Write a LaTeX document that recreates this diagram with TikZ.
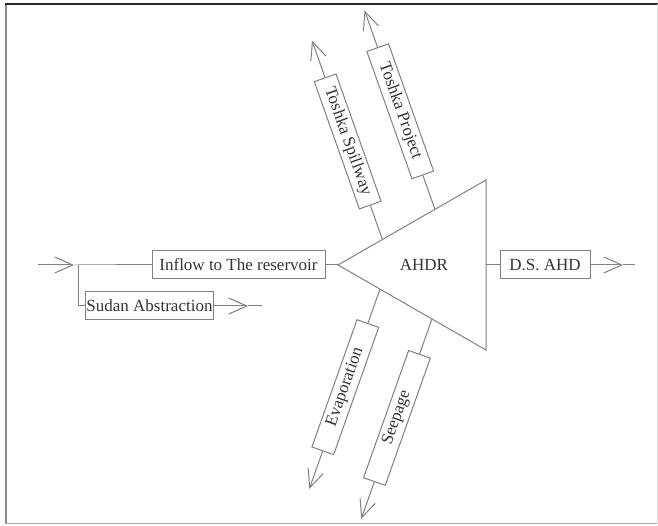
\documentclass[tikz,border=0pt]{standalone}
\usepackage{fontspec}
\setmainfont{Liberation Serif}
\usetikzlibrary{arrows.meta,calc}

\begin{document}
\begin{tikzpicture}[x=1pt,y=1pt,
        line/.style={draw=black!50, line width=1pt},
        barb/.style={line, -{Straight Barb[length=18pt,width=16pt]}},
        flowbox/.style={draw=black!50, line width=1pt, text=black!80, inner sep=1pt,
            minimum height=28pt, font=\fontsize{17}{20}\selectfont},
        sidebox/.style={flowbox, minimum width=135pt, minimum height=23pt}]
    \useasboundingbox (0,0) rectangle (658,526);
    % frame of the scanned page
    \draw[black!45, line width=2pt] (6,2) -- (6,522);
    \draw[black!85, line width=1.5pt] (5,522) -- (658,522);
    \draw[black!35, line width=1pt] (6,2) -- (658,2);
    \draw[black!15] (657,2) -- (657,522);

    % the reservoir (triangle)
    \coordinate (apex) at (338,261);
    \coordinate (tr) at (486,346);
    \coordinate (br) at (486,176);
    \coordinate (rs) at (486,261);
    \draw[line] (apex) -- (tr) -- (br) -- cycle;
    \node[text=black!80, font=\fontsize{17}{20}\selectfont] (ahdr) at (424,261) {AHDR};

    % inflow side
    \coordinate (in) at (38,261);
    \coordinate (inhead) at (74,261);
    \coordinate (junc) at (78,261);
    \coordinate (jdown) at (78,220);
    \node[flowbox, minimum width=173pt] (inflow) at (238.5,261) {Inflow to The reservoir};
    \node[flowbox, minimum width=127pt] (sudan) at (149.5,220) {Sudan Abstraction};
    \coordinate (sudhead) at (248,220);
    \coordinate (sudend) at (262,220);
    \draw[barb] (in) -- (inhead);
    \draw[line] (inhead) -- (junc) -- (inflow) -- (apex);
    \draw[line] (junc) -- (jdown) -- (sudan);
    \draw[barb] (sudan) -- (sudhead);
    \draw[line] (sudhead) -- (sudend);

    % outflow downstream
    \node[flowbox, minimum width=90pt] (ds) at (545,261) {D.S. AHD};
    \coordinate (dshead) at (623,261);
    \coordinate (dsend) at (635,261);
    \draw[line] (rs) -- (ds);
    \draw[barb] (ds) -- (dshead);
    \draw[line] (dshead) -- (dsend);

    % Toshka outlets
    \coordinate (sp) at ($(apex)!0.3!(tr)$);
    \coordinate (pr) at ($(apex)!0.655!(tr)$);
    \node[sidebox, rotate=-70.5] (spill) at ($(sp)+(109.5:104)$) {Toshka Spillway};
    \node[sidebox, rotate=-70.5] (proj) at ($(pr)+(109.5:104)$) {Toshka Project};
    \coordinate (spillend) at ($(sp)+(109.5:211)$);
    \coordinate (projend) at ($(pr)+(109.5:211)$);
    \draw[line] (sp) -- (spill);
    \draw[barb] (spill) -- (spillend);
    \draw[line] (pr) -- (proj);
    \draw[barb] (proj) -- (projend);

    % losses
    \coordinate (ev) at ($(apex)!0.284!(br)$);
    \coordinate (se) at ($(apex)!0.635!(br)$);
    \node[sidebox, rotate=70.5] (evap) at ($(ev)+(-109.5:104)$) {Evaporation};
    \node[sidebox, rotate=70.5] (seep) at ($(se)+(-109.5:105)$) {Seepage};
    \coordinate (evapend) at ($(ev)+(-109.5:212)$);
    \coordinate (seepend) at ($(se)+(-109.5:212)$);
    \draw[line] (ev) -- (evap);
    \draw[barb] (evap) -- (evapend);
    \draw[line] (se) -- (seep);
    \draw[barb] (seep) -- (seepend);
\end{tikzpicture}
\end{document}
